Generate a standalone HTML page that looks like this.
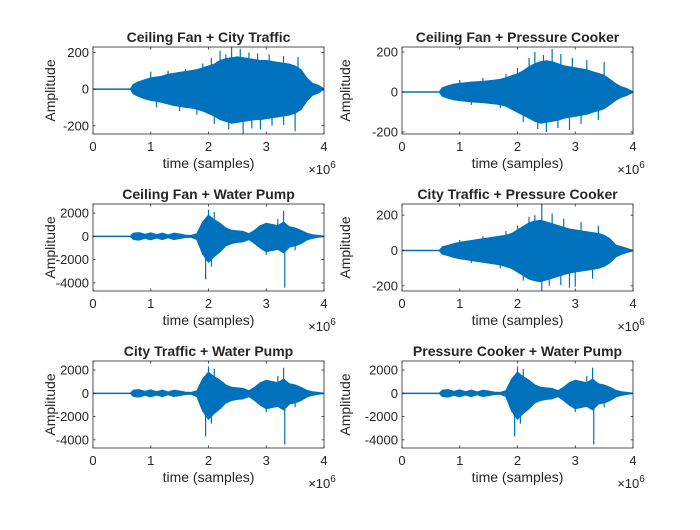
<!DOCTYPE html>
<html><head><meta charset="utf-8"><style>
body{margin:0;background:#fff}
svg text{font-family:"Liberation Sans",Arial,sans-serif;fill:#262626}
</style></head><body>
<svg id="fig" width="700" height="525" viewBox="0 0 700 525">
<rect width="700" height="525" fill="#fff"/>
</svg>
<script>
const titles=["Ceiling Fan + City Traffic","Ceiling Fan + Pressure Cooker","Ceiling Fan + Water Pump","City Traffic + Pressure Cooker","City Traffic + Water Pump","Pressure Cooker + Water Pump"];
const xTicks=[0,1,2,3,4];
const timeGrid=[0,0.1,0.2,0.3,0.4,0.5,0.6,0.65,0.7,0.8,0.9,1.0,1.1,1.2,1.3,1.4,1.5,1.6,1.7,1.8,1.9,2.0,2.1,2.2,2.3,2.4,2.5,2.6,2.7,2.8,2.9,3.0,3.1,3.2,3.3,3.4,3.5,3.6,3.7,3.8,3.9,4.0];
const yLims=[[-245,230],[-210,225],[-4700,2780],[-229,263],[-4700,2780],[-4700,2780]];
const yTicks=[[-200,0,200],[-200,0,200],[-4000,-2000,0,2000],[-200,0,200],[-4000,-2000,0,2000],[-4000,-2000,0,2000]];
const upA=[0,0,0,0,0,0,0,0,25,40,50,60,65,70,80,85,90,95,100,105,115,125,135,155,165,170,175,170,165,160,155,155,150,145,140,135,125,105,60,30,20,0];
const loA=[0,0,0,0,0,0,0,0,-25,-40,-52,-60,-65,-72,-80,-88,-92,-98,-102,-108,-118,-132,-145,-165,-175,-185,-180,-175,-170,-165,-165,-160,-155,-150,-145,-140,-130,-110,-65,-32,-20,0];
const upB=[0,0,0,0,0,0,0,0,20,30,38,42,45,48,50,52,55,58,62,70,80,90,105,125,140,150,155,150,140,130,125,120,115,110,100,92,82,62,40,25,15,0];
const loB=[0,0,0,0,0,0,0,0,-20,-30,-38,-42,-45,-48,-50,-52,-55,-58,-62,-70,-85,-100,-115,-130,-145,-155,-150,-145,-140,-130,-125,-120,-115,-110,-100,-92,-82,-62,-40,-25,-15,0];
const upD=[0,0,0,0,0,0,0,0,20,28,38,45,50,55,60,65,70,75,80,85,95,115,135,155,165,170,160,150,140,130,120,115,110,105,100,95,85,65,30,20,10,0];
const loD=[0,0,0,0,0,0,0,0,-20,-28,-38,-45,-50,-55,-60,-65,-70,-75,-80,-90,-100,-120,-140,-160,-170,-175,-165,-155,-145,-135,-125,-120,-115,-110,-105,-100,-88,-68,-35,-20,-10,0];
const upW=[0,0,0,0,0,0,0,0,250,300,150,280,120,260,100,250,180,80,60,200,1200,1800,1400,1100,700,500,450,400,200,500,900,1100,1000,900,1200,800,700,500,250,120,60,0];
const loW=[0,0,0,0,0,0,0,0,-250,-300,-150,-280,-120,-260,-100,-250,-180,-80,-60,-250,-1500,-2200,-1700,-1300,-800,-600,-500,-450,-250,-600,-1000,-1300,-1200,-1100,-1400,-900,-800,-600,-300,-150,-60,0];
const uppers=[upA,upB,upW,upD,upW,upW];
const lowers=[loA,loB,loW,loD,loW,loW];
const spikesA=[[1.0,95],[1.3,100],[1.6,110],[1.9,140],[2.05,170],[2.2,210],[2.3,190],[2.4,232],[2.55,220],[2.7,200],[2.85,195],[3.05,190],[3.3,180],[3.55,175],[1.1,-100],[1.5,-120],[1.8,-140],[2.1,-190],[2.35,-220],[2.6,-245],[2.75,-215],[2.9,-220],[3.1,-200],[3.3,-195],[3.5,-230]];
const spikesB=[[1.0,60],[1.4,70],[1.8,90],[2.0,120],[2.2,170],[2.3,200],[2.45,185],[2.6,215],[2.75,190],[2.95,170],[3.2,160],[3.5,150],[1.2,-65],[1.7,-80],[2.1,-150],[2.35,-185],[2.5,-200],[2.7,-180],[2.9,-190],[3.1,-160],[3.4,-140]];
const spikesD=[[1.0,60],[1.4,80],[1.8,110],[2.0,140],[2.2,190],[2.3,200],[2.42,263],[2.6,210],[2.8,180],[3.1,160],[3.4,140],[1.2,-70],[1.7,-100],[2.1,-170],[2.42,-229],[2.55,-200],[2.75,-195],[2.9,-210],[3.0,-205],[3.3,-160]];
const spikesW=[[1.95,-3700],[2.0,2300],[2.1,2100],[2.05,-2600],[3.3,2200],[3.32,-4400],[3.2,1500],[3.0,-1600],[3.5,-1200]];
const spikes=[spikesA,spikesB,spikesW,spikesD,spikesW,spikesW];

const NS="http://www.w3.org/2000/svg";
const svg=document.getElementById('fig');
const cols=[93,402], rows=[47,204,361], W=231, H=87;
function mk(tag,at,parent){const e=document.createElementNS(NS,tag);for(const k in at)e.setAttribute(k,at[k]);(parent||svg).appendChild(e);return e;}
titles.forEach((t,i)=>{
  const x0=cols[i%2], y0=rows[Math.floor(i/2)];
  const [ymin,ymax]=yLims[i];
  const xs=v=>x0+v/4*W, ys=v=>y0+(ymax-v)/(ymax-ymin)*H;
  const g=mk('g',{});
  
  
  const cp=mk('clipPath',{id:'c'+i},g); mk('rect',{x:x0,y:y0,width:W,height:H},cp);
  const pg=mk('g',{'clip-path':'url(#c'+i+')'},g);
  const base=mk('line',{x1:xs(0),x2:xs(4),y1:ys(0),y2:ys(0),stroke:'#0072BD','stroke-width':1},pg);
  
  
  let pts=timeGrid.map((tt,k)=>xs(tt)+','+ys(uppers[i][k]));
  pts=pts.concat(timeGrid.map((tt,k)=>xs(tt)+','+ys(lowers[i][k])).reverse());
  const poly=mk('polygon',{points:pts.join(' '),fill:'#0072BD',stroke:'#0072BD','stroke-width':1.5,'stroke-linejoin':'round'},pg);
  
  
  spikes[i].forEach(s=>{
    const l=mk('line',{x1:xs(s[0]),x2:xs(s[0]),y1:ys(0),y2:ys(s[1]),stroke:'#0072BD','stroke-width':1.2},pg);
    
    
  });
  const box=mk('rect',{x:x0,y:y0,width:W,height:H,fill:'none',stroke:'#262626','stroke-width':0.8},g);
  
  
  xTicks.forEach(v=>{
    const X=xs(v);
    mk('line',{x1:X,x2:X,y1:y0+H,y2:y0+H-2.5,stroke:'#262626','stroke-width':0.8},g);
    mk('line',{x1:X,x2:X,y1:y0,y2:y0+2.5,stroke:'#262626','stroke-width':0.8},g);
    const tx=mk('text',{x:X,y:y0+H+17,'text-anchor':'middle','font-size':13},g);tx.textContent=v;
    
    
  });
  yTicks[i].forEach(v=>{
    const Y=ys(v);
    mk('line',{x1:x0,x2:x0+2.5,y1:Y,y2:Y,stroke:'#262626','stroke-width':0.8},g);
    mk('line',{x1:x0+W,x2:x0+W-2.5,y1:Y,y2:Y,stroke:'#262626','stroke-width':0.8},g);
    const tx=mk('text',{x:x0-4,y:Y+4.5,'text-anchor':'end','font-size':13},g);tx.textContent=v;
    
    
  });
  const ti=mk('text',{x:x0+W/2,y:y0-5,'text-anchor':'middle','font-size':14,'font-weight':'bold'},g);ti.textContent=t;
  
  
  const xl=mk('text',{x:x0+W/2,y:y0+H+34,'text-anchor':'middle','font-size':14},g);xl.textContent='time (samples)';
  
  
  const ex=mk('text',{x:x0+W-2,y:y0+H+40,'text-anchor':'middle','font-size':13},g);ex.innerHTML='×10<tspan dy="-6" font-size="10">6</tspan>';
  
  
  const cy=y0+H/2, cx=i%2?x0-52:x0-38;
  const yl=mk('text',{x:cx,y:cy,'text-anchor':'middle','font-size':14,transform:'rotate(-90 '+cx+' '+cy+')'},g);yl.textContent='Amplitude';
  
  
});
</script>
</body></html>
